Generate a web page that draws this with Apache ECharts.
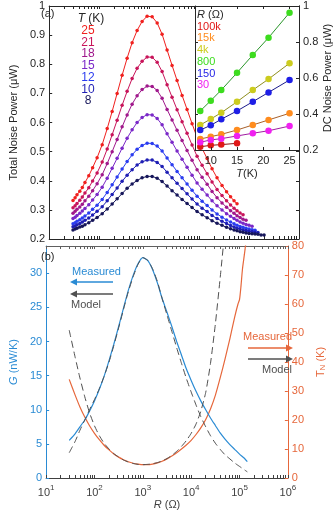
<!DOCTYPE html>
<html>
<head>
<meta charset="utf-8">
<script src="https://cdn.jsdelivr.net/npm/echarts@6/dist/echarts.min.js"></script>
<style>
html, body { margin: 0; padding: 0; background: #fff; }
#chart { width: 335px; height: 512px; }
</style>
</head>
<body>
<div id="chart"></div>
<script>
// (a) total noise power (uW) vs R (ohm), one curve per bath temperature
const temps = [25, 21, 18, 15, 12, 10, 8];
const tempColors = ["#f0201e", "#c8145a", "#a0188c", "#7a28c8", "#2a3cf0", "#1e1eb4", "#16165a"];

const rNoise = [30, 33, 36, 41, 46, 52, 62, 74, 91, 115, 145, 182, 229, 288, 363, 457, 575, 724, 912,
    1150, 1450, 1820, 2290, 2880, 3630, 4570, 5750, 7240, 9120, 11500, 14500, 18200, 22900, 28800,
    35500, 42700, 50100, 57500, 66100, 75900, 87100, 100000, 115000, 132000, 151000, 174000, 200000];

const noise25 = [0.332, 0.342, 0.352, 0.364, 0.377, 0.394, 0.417, 0.445, 0.479, 0.524, 0.579, 0.638, 0.700,
    0.762, 0.821, 0.874, 0.916, 0.947, 0.965, 0.963, 0.942, 0.903, 0.849, 0.796, 0.744, 0.693, 0.645, 0.596,
    0.549, 0.511, 0.476, 0.441, 0.410, 0.384, 0.362, 0.345, 0.331, 0.321];
const noise21 = [0.307, 0.314, 0.322, 0.333, 0.344, 0.358, 0.376, 0.399, 0.427, 0.464, 0.509, 0.558, 0.608,
    0.659, 0.707, 0.751, 0.786, 0.810, 0.825, 0.824, 0.807, 0.775, 0.730, 0.687, 0.644, 0.603, 0.563, 0.523,
    0.484, 0.453, 0.424, 0.396, 0.370, 0.349, 0.331, 0.317, 0.306, 0.297, 0.289, 0.283];
const noise18 = [0.288, 0.295, 0.302, 0.310, 0.319, 0.331, 0.347, 0.366, 0.390, 0.421, 0.459, 0.500, 0.542,
    0.585, 0.626, 0.663, 0.692, 0.713, 0.725, 0.724, 0.710, 0.683, 0.645, 0.609, 0.573, 0.538, 0.504, 0.470,
    0.438, 0.412, 0.388, 0.363, 0.342, 0.324, 0.309, 0.297, 0.288, 0.280, 0.274, 0.268, 0.264];
const noise15 = [0.270, 0.275, 0.281, 0.288, 0.296, 0.305, 0.318, 0.334, 0.353, 0.378, 0.409, 0.443, 0.477,
    0.512, 0.546, 0.575, 0.600, 0.617, 0.627, 0.626, 0.614, 0.592, 0.561, 0.532, 0.502, 0.474, 0.446, 0.419,
    0.392, 0.371, 0.351, 0.331, 0.314, 0.300, 0.287, 0.278, 0.270, 0.264, 0.258, 0.254, 0.250, 0.247, 0.244];
const noise12 = [0.252, 0.256, 0.261, 0.266, 0.272, 0.279, 0.289, 0.302, 0.316, 0.336, 0.360, 0.386, 0.413,
    0.440, 0.466, 0.489, 0.508, 0.521, 0.529, 0.528, 0.519, 0.502, 0.478, 0.455, 0.432, 0.410, 0.389, 0.367,
    0.347, 0.330, 0.315, 0.300, 0.286, 0.275, 0.265, 0.258, 0.252, 0.247, 0.243, 0.240, 0.237, 0.234, 0.232,
    0.230];
const noise10 = [0.242, 0.245, 0.249, 0.253, 0.258, 0.264, 0.272, 0.282, 0.295, 0.311, 0.331, 0.353, 0.375,
    0.398, 0.419, 0.438, 0.454, 0.465, 0.471, 0.471, 0.463, 0.449, 0.429, 0.410, 0.391, 0.373, 0.355, 0.337,
    0.320, 0.306, 0.294, 0.281, 0.270, 0.261, 0.253, 0.246, 0.241, 0.237, 0.234, 0.231, 0.229, 0.227, 0.225,
    0.223, 0.222];
const noise8 = [0.231, 0.234, 0.237, 0.241, 0.244, 0.249, 0.256, 0.264, 0.274, 0.287, 0.303, 0.320, 0.338,
    0.356, 0.374, 0.389, 0.401, 0.410, 0.415, 0.415, 0.409, 0.397, 0.382, 0.366, 0.351, 0.336, 0.322, 0.308,
    0.294, 0.283, 0.273, 0.263, 0.254, 0.247, 0.240, 0.235, 0.231, 0.228, 0.225, 0.223, 0.221, 0.219, 0.218,
    0.217, 0.216, 0.214, 0.214];
const noiseByTemp = [noise25, noise21, noise18, noise15, noise12, noise10, noise8];

// inset: DC noise power (uW) vs T (K) at fixed R
const tInset = [8, 10, 12, 15, 18, 21, 25];
const insetLabels = ["100k", "15k", "4k", "800", "150", "30"];
const insetDotColors = ["#e01818", "#ff8c1e", "#cccc1e", "#3cdc1e", "#1e1ee6", "#f020f0"];
const insetLineColors = ["#8a1010", "#a8602a", "#8f8f1e", "#2a962a", "#1a1a8c", "#a01ea0"];
const dc100k = [0.218, 0.226, 0.230, 0.237];
const dc15k = [0.261, 0.274, 0.287, 0.311, 0.339, 0.367, 0.404];
const dc4k = [0.339, 0.372, 0.407, 0.468, 0.533, 0.594, 0.682];
const dc800 = [0.417, 0.474, 0.533, 0.629, 0.728, 0.824, 0.963];
const dc150 = [0.311, 0.337, 0.371, 0.417, 0.468, 0.520, 0.589];
const dc30 = [0.243, 0.256, 0.263, 0.278, 0.293, 0.307, 0.333];
const dcByR = [dc100k, dc15k, dc4k, dc800, dc150, dc30];

// (b) thermal conductance G (nW/K) and noise temperature T_N (K) vs R
const rCond = [30, 40, 50, 63, 79, 100, 126, 158, 200, 251, 316, 398, 501, 631, 794, 1000, 1260, 1580, 2000,
    2510, 3160, 3980, 5010, 6310, 7940, 10000, 12600, 15800, 20000, 25100, 31600, 39800, 50100, 63100,
    79400, 100000, 126000, 145000];
const gMeasured = [5.5, 6.5, 7.5, 8.5, 9.8, 11.3, 13.0, 14.9, 17.2, 19.6, 22.2, 24.9, 27.5, 29.7, 31.4, 32.3,
    31.9, 30.6, 28.6, 26.3, 24.3, 22.2, 20.0, 18.0, 16.0, 14.3, 12.7, 11.3, 10.0, 8.8, 7.7, 6.6, 5.7, 4.9,
    4.2, 3.5, 2.9, 2.4];
const gModel = [3.7, 5.4, 7.0, 8.5, 10.0, 11.5, 13.1, 14.9, 17.0, 19.4, 22.0, 24.7, 27.3, 29.5, 31.3, 32.3,
    31.9, 30.7, 28.8, 26.3, 23.9, 21.5, 19.1, 16.8, 14.6, 12.6, 10.7, 9.0, 7.5, 6.2, 5.1, 4.2, 3.4, 2.8,
    2.2, 1.7, 1.2, 0.9];

const rTemp = [30, 40, 50, 63, 79, 100, 126, 158, 200, 251, 316, 398, 501, 631, 794, 1000, 1260, 1580, 2000,
    2510, 3160, 3980, 5010, 6310, 7940, 10000, 12600, 15800, 20000, 25100, 31600, 39800, 50100, 63100,
    79400, 93000, 100000, 107000, 115000, 126000, 135000];
const tnMeasured = [34.0, 28.5, 24.5, 21.0, 18.0, 15.4, 13.2, 11.3, 9.7, 8.3, 7.2, 6.3, 5.6, 5.1, 4.8, 4.6,
    4.6, 4.8, 5.2, 5.8, 6.6, 7.6, 8.7, 10.0, 11.4, 13.0, 15.0, 17.3, 20.2, 23.8, 28.5, 34.5, 41.0, 48.0,
    55.5, 60.0, 61.5, 66.0, 72.0, 77.0, 81.0];
const rTempModel = rCond.slice(0, 33);
const tnModel = [51.0, 41.5, 34.5, 28.0, 22.5, 18.0, 14.6, 12.0, 10.0, 8.4, 7.2, 6.2, 5.5, 5.0, 4.7, 4.6,
    4.7, 4.9, 5.3, 5.9, 6.7, 7.8, 9.2, 10.9, 12.9, 15.4, 18.6, 23.0, 29.5, 39.5, 53.0, 69.0, 86.0];

const decadeLabels = [1, 2, 3, 4, 5, 6];

const font = "Liberation Sans, Arial, Helvetica, sans-serif";
const dark = "#262626";
const blue = "#2a8bd4";
const orange = "#e6673b";
const gray = "#505050";

// log-decade ticks, R axis is drawn in log10(R)
const decadeTicks = [];
for (let d = 1; d <= 6; d++) {
    decadeTicks.push(d);
    if (d < 6) for (let k = 2; k <= 9; k++) decadeTicks.push(d + Math.log10(k));
}

function xy(xs, ys, logX) {
    return ys.map((v, i) => [logX ? Math.log10(xs[i]) : xs[i], v]);
}

function frameAxis(gridIndex, position, opts) {
    const color = opts.color || dark;
    return {
        type: "value",
        gridIndex: gridIndex,
        position: position,
        min: opts.min,
        max: opts.max,
        z: opts.z || 0,
        axisLine: { onZero: false, lineStyle: { color: color, width: 1 } },
        axisTick: {
            inside: true,
            length: 3,
            customValues: opts.ticks,
            lineStyle: { color: color }
        },
        axisLabel: opts.labels ? {
            customValues: opts.labels,
            color: color,
            fontFamily: font,
            fontSize: 11,
            margin: opts.margin || 4,
            formatter: opts.formatter,
            rich: opts.rich
        } : { show: false },
        splitLine: { show: false },
        name: opts.name,
        nameLocation: "middle",
        nameGap: opts.nameGap,
        nameRotate: opts.nameRotate,
        nameTextStyle: {
            color: color,
            fontFamily: font,
            fontSize: 11,
            rich: opts.nameRich
        }
    };
}

const yMainTicks = [0.2, 0.3, 0.4, 0.5, 0.6, 0.7, 0.8, 0.9, 1];
const yInsetTicks = [0.2, 0.4, 0.6, 0.8, 1];
const tInsetTicks = [10, 15, 20, 25];
const gTicks = [0, 5, 10, 15, 20, 25, 30];
const tnTicks = [0, 10, 20, 30, 40, 50, 60, 70, 80];

const xAxis = [
    frameAxis(0, "bottom", { min: 1, max: 6, ticks: decadeTicks }),
    frameAxis(0, "top", { min: 1, max: 6, ticks: decadeTicks }),
    frameAxis(1, "bottom", {
        min: 7, max: 26.8, ticks: tInsetTicks, labels: tInsetTicks, z: 6, margin: 5,
        name: "{i|T}(K)", nameGap: 18,
        nameRich: { i: { fontStyle: "italic", fontFamily: font, fontSize: 11, color: dark } }
    }),
    frameAxis(1, "top", { min: 7, max: 26.8, ticks: tInsetTicks, z: 6 }),
    frameAxis(2, "bottom", {
        min: 1, max: 6, ticks: decadeTicks, labels: decadeLabels, margin: 6, color: "#404040",
        formatter: v => "10{sup|" + v + "}",
        rich: { sup: { fontSize: 8, fontFamily: font, color: "#404040", padding: [0, 0, 9, 0] } },
        name: "{i|R} (Ω)", nameGap: 21,
        nameRich: { i: { fontStyle: "italic", fontFamily: font, fontSize: 11, color: "#404040" } }
    }),
    frameAxis(2, "top", { min: 1, max: 6, ticks: decadeTicks, color: "#606060" })
];

const yAxis = [
    frameAxis(0, "left", {
        min: 0.2, max: 1, ticks: yMainTicks, labels: yMainTicks,
        name: "Total Noise Power (μW)", nameGap: 21, nameRotate: 90
    }),
    frameAxis(0, "right", { min: 0.2, max: 1, ticks: yMainTicks }),
    frameAxis(1, "right", {
        min: 0.2, max: 1, ticks: yInsetTicks, labels: yInsetTicks, z: 6,
        name: "DC Noise Power (μW)", nameGap: 22, nameRotate: 90
    }),
    frameAxis(1, "left", { min: 0.2, max: 1, ticks: yInsetTicks, z: 6 }),
    frameAxis(2, "left", {
        min: 0, max: 34, ticks: gTicks, labels: gTicks, color: blue,
        name: "{i|G} (nW/K)", nameGap: 18, nameRotate: 90,
        nameRich: { i: { fontStyle: "italic", fontFamily: font, fontSize: 11, color: blue } }
    }),
    frameAxis(2, "right", {
        min: 0, max: 80, ticks: tnTicks, labels: tnTicks, color: orange,
        name: "{t|T}{s|N} (K)", nameGap: 19, nameRotate: 90,
        nameRich: {
            t: { fontFamily: font, fontSize: 11, color: orange },
            s: { fontFamily: font, fontSize: 8, color: orange, padding: [5, 0, 0, 0] }
        }
    })
];

const series = [];

temps.forEach((t, i) => {
    series.push({
        type: "line",
        xAxisIndex: 0,
        yAxisIndex: 0,
        data: xy(rNoise, noiseByTemp[i], true),
        symbol: "circle",
        symbolSize: 3.5,
        lineStyle: { width: 1, color: tempColors[i] },
        itemStyle: { color: tempColors[i] },
        z: 2,
        silent: true
    });
});

insetLabels.forEach((lab, i) => {
    series.push({
        type: "line",
        xAxisIndex: 2,
        yAxisIndex: 2,
        data: xy(tInset, dcByR[i], false),
        symbol: "circle",
        symbolSize: 6.5,
        lineStyle: { width: 1, color: insetLineColors[i] },
        itemStyle: { color: insetDotColors[i] },
        z: 5,
        silent: true
    });
});

function curve(xs, ys, yIndex, color, dashed) {
    return {
        type: "line",
        xAxisIndex: 4,
        yAxisIndex: yIndex,
        data: xy(xs, ys, true),
        showSymbol: false,
        smooth: 0.2,
        lineStyle: { width: dashed ? 1 : 1.2, color: color, type: dashed ? [7, 4] : "solid" },
        z: dashed ? 3 : 2,
        silent: true
    };
}

series.push(curve(rTempModel, tnModel, 5, gray, true));
series.push(curve(rCond, gModel, 4, gray, true));
series.push(curve(rTemp, tnMeasured, 5, orange, false));
series.push(curve(rCond, gMeasured, 4, blue, false));

// annotations
function label(x, y, text, color, extra) {
    return Object.assign({
        type: "text",
        x: x,
        y: y,
        z: 100,
        silent: true,
        style: {
            text: text,
            fill: color,
            fontFamily: font,
            fontSize: 11,
            align: "left",
            verticalAlign: "middle"
        }
    }, extra || {});
}

function arrow(x1, x2, y, color) {
    const dir = x2 > x1 ? 1 : -1;
    return [
        { type: "line", z: 100, silent: true, shape: { x1: x1, y1: y, x2: x2 - dir * 6, y2: y },
          style: { stroke: color, lineWidth: 1.5 } },
        { type: "polygon", z: 100, silent: true,
          shape: { points: [[x2, y], [x2 - dir * 7, y - 3.5], [x2 - dir * 7, y + 3.5]] },
          style: { fill: color } }
    ];
}

const graphic = [];
graphic.push(label(41, 14, "(a)", dark));
graphic.push({
    type: "text", x: 91, y: 18.5, z: 100, silent: true,
    style: {
        text: "{i|T} (K)", fill: dark, fontFamily: font, fontSize: 12,
        align: "center", verticalAlign: "middle",
        rich: { i: { fontStyle: "italic", fontFamily: font, fontSize: 12, fill: dark } }
    }
});
temps.forEach((t, i) => {
    graphic.push({
        type: "text", x: 88, y: 30.7 + i * 11.7, z: 100, silent: true,
        style: { text: String(t), fill: tempColors[i], fontFamily: font, fontSize: 12,
                 align: "center", verticalAlign: "middle" }
    });
});
graphic.push({
    type: "text", x: 197, y: 15, z: 100, silent: true,
    style: {
        text: "{i|R} (Ω)", fill: dark, fontFamily: font, fontSize: 11,
        align: "left", verticalAlign: "middle",
        rich: { i: { fontStyle: "italic", fontFamily: font, fontSize: 11, fill: dark } }
    }
});
insetLabels.forEach((lab, i) => {
    graphic.push(label(197, 26.7 + i * 11.7, lab, insetDotColors[i]));
});

graphic.push(label(41, 257, "(b)", dark));
graphic.push(label(72, 271.5, "Measured", blue));
graphic.push(...arrow(113, 70, 282, blue));
graphic.push(...arrow(113, 70, 294, gray));
graphic.push(label(71, 305, "Model", gray));
graphic.push(label(292, 336.5, "Measured", orange, {}));
graphic[graphic.length - 1].style.align = "right";
graphic.push(...arrow(248, 293, 348, orange));
graphic.push(...arrow(248, 293, 359, gray));
graphic.push(label(292, 370, "Model", gray));
graphic[graphic.length - 1].style.align = "right";

const chart = echarts.init(document.getElementById("chart"), null, { renderer: "canvas" });
chart.setOption({
    animation: false,
    backgroundColor: "#fff",
    textStyle: { fontFamily: font },
    grid: [
        { left: 37, top: 6, width: 262, height: 233 },
        { left: 195, top: 6, width: 104, height: 144, show: true, backgroundColor: "#fff", borderWidth: 0, z: 3 },
        { left: 37, top: 246, width: 262, height: 232 }
    ],
    xAxis: xAxis,
    yAxis: yAxis,
    series: series,
    graphic: graphic
});
</script>
</body>
</html>
